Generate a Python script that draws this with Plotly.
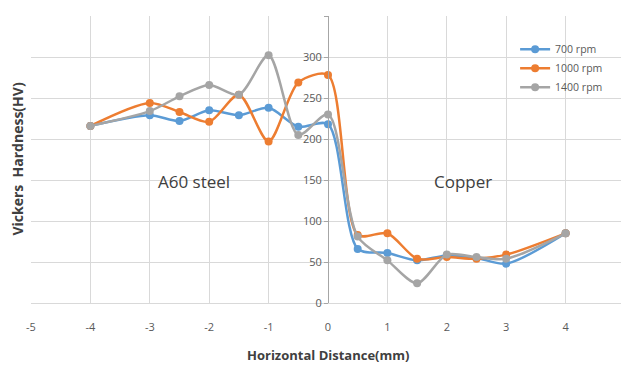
import plotly.graph_objects as go

x_vals = [-4, -3, -2.5, -2, -1.5, -1, -0.5, 0, 0.5, 1, 1.5, 2, 2.5, 3, 4]
hv_700 = [216, 229, 222, 235, 229, 238, 215, 218, 66, 61, 52, 58, 55, 48, 85]
hv_1000 = [216, 244, 233, 221, 254, 197, 269, 278, 83, 85, 54, 56, 54, 59, 85]
hv_1400 = [216, 234, 252, 266, 254, 302, 205, 230, 81, 52, 24, 59, 56, 54, 85]
series_names = ["700 rpm", "1000 rpm", "1400 rpm"]
colors = ["#5B9BD5", "#ED7D31", "#A5A5A5"]
x_ticks = [-5, -4, -3, -2, -1, 0, 1, 2, 3, 4, 5]
x_tick_labels = ["-5", "-4", "-3", "-2", "-1", "0", "1", "2", "3", "4", "5"]
y_ticks = [0, 50, 100, 150, 200, 250, 300, 350]

fig = go.Figure()
for name, ys, c in zip(series_names, [hv_700, hv_1000, hv_1400], colors):
    fig.add_trace(go.Scatter(
        x=x_vals, y=ys, name=name, mode="lines+markers",
        line=dict(color=c, width=2.5, shape="spline", smoothing=0.8),
        marker=dict(color=c, size=8),
    ))

# page body has an 8px margin, so the figure is sized to fit the window
fig.update_layout(
    width=621, height=359,
    margin=dict(l=23, r=4, t=8, b=64, autoexpand=False),
    paper_bgcolor="white", plot_bgcolor="white",
    font=dict(family="Open Sans", color="#595959"),
    showlegend=True,
    legend=dict(x=0.815, y=0.935, xanchor="left", yanchor="top",
                bgcolor="rgba(0,0,0,0)", font=dict(size=10.5, color="#595959")),
    xaxis=dict(range=[-5, 5], tickvals=x_ticks, ticktext=x_tick_labels,
               showgrid=True, gridcolor="#D9D9D9",
               gridwidth=1, zeroline=False, showline=True, linecolor="#D9D9D9",
               tickfont=dict(size=11, color="#595959"), ticklabelstandoff=14),
    yaxis=dict(range=[0, 350], tickvals=y_ticks, showgrid=True, gridcolor="#D9D9D9",
               gridwidth=1, zeroline=False, anchor="free", position=0.5,
               showline=True, linecolor="#A6A6A6", linewidth=1,
               ticks="outside", ticklen=4, tickcolor="#A6A6A6",
               tickfont=dict(size=11, color="#595959")),
    annotations=[
        dict(text="<b>Vickers  Hardness(HV)</b>", xref="paper", yref="paper",
             x=-0.0235, y=0.5, textangle=-90, showarrow=False,
             font=dict(size=14, color="#404040", family="Open Sans"), xanchor="center"),
        dict(text="<b>Horizontal Distance(mm)</b>", xref="paper", yref="paper",
             x=0.5, y=-0.181, showarrow=False, yanchor="middle",
             font=dict(size=13, color="#404040", family="Open Sans")),
        dict(text="A60 steel", x=-2.25, y=148, showarrow=False,
             font=dict(size=17, color="#404040", family="Open Sans")),
        dict(text="Copper", x=2.28, y=148, showarrow=False,
             font=dict(size=17, color="#404040", family="Open Sans")),
    ],
)

fig.write_html("out.html")
